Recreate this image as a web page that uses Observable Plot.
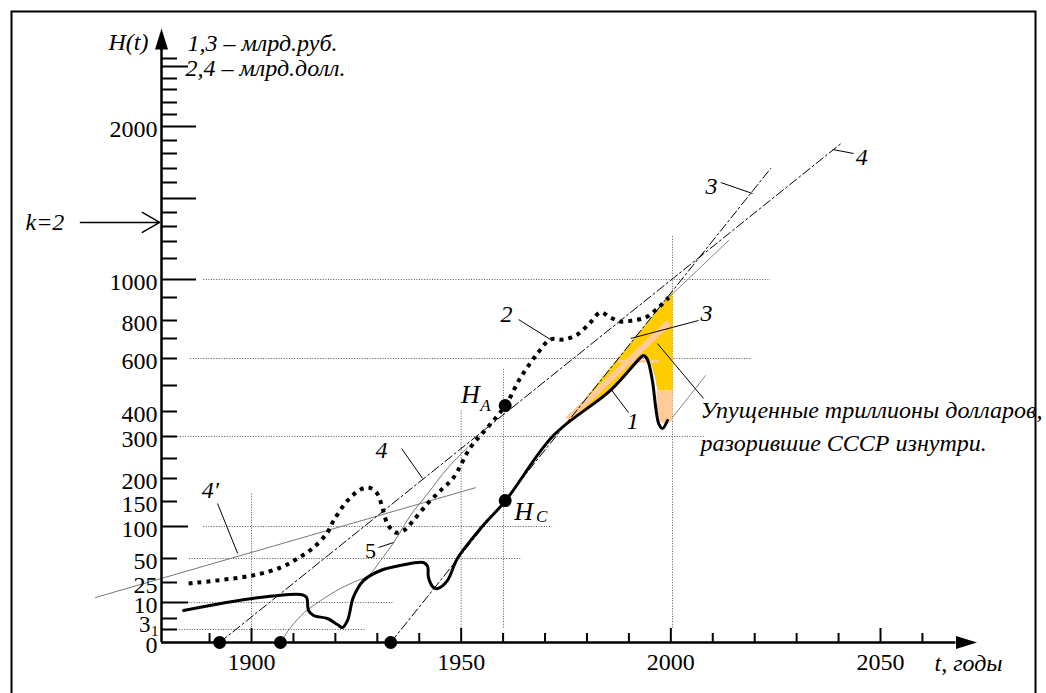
<!DOCTYPE html>
<html><head><meta charset="utf-8">
<script src="https://cdn.jsdelivr.net/npm/d3@7"></script>
<script src="https://cdn.jsdelivr.net/npm/@observablehq/plot@0.6"></script>
<style>body{margin:0;background:#fff}</style>
</head><body><div id="chart"></div>
<script>
// ---- scale definition (hand-drawn, uneven y axis) ----
const yScaleValues = [0,1,3,10,25,50,100,150,200,250,300,400,500,600,700,800,900,1000,1100,1200,1300,1400,1500,1600,1700,1800,1900,2000,2100,2200,2300,2400,2500,2600,2700];
const yScalePixels = [642,629,618,602,582,558,526,501,478,458,436,411,385,358,338,320,297,279,258,241,226,212,198,182,168,153,140,126,114,102,89,78,66,58,49];

// ---- tick labels ----
const yLabels = [0,10,25,50,100,150,200,300,400,600,800,1000,2000];
const yTicksShort = [1,3,25,50,150,200,250,300,400,500,600,700,800,900,1100,1200,1300,1400,1600,1700,1800,1900,2100,2200,2300,2400,2600];
const yTicksMid = [10,100,2500];
const yTicksLong = [1000,1500,2000];
const xLabels = [1900,1950,2000,2050];
const xTicksShort = [1890,1910,1920,1930,1940,1960,1970,1980,1990,2010,2020,2030,2040,2060];

// ---- curve 1 (млрд. руб., solid) ----
const years1 = [1883.8,1900.2,1911.7,1913.1,1913.6,1914.8,1918.1,1920.5,1921.7,1922.9,1924.3,1926.7,1930.8,1935.5,1941.0,1942.0,1942.2,1943.4,1944.4,1946.7,1949.1,1954.6,1960.6,1972.0,1985.6,1992.8,1993.5,1994.4,1995.6,1996.4,1997.1,1998.0,1999.2];
const values1 = [6.5,13,16,14,6.5,4.3,3,1.9,1.36,2.64,14,27,37.5,42.7,45.8,41.7,30.2,21.25,20.5,27,50,96.9,152,304,481,605,615,596,518,415,352,332,364];

// ---- curve 2 (млрд. долл., dotted) ----
const years2 = [1885.0,1900.2,1906.9,1911.0,1914.8,1918.1,1919.6,1922.9,1926.0,1928.1,1930.0,1931.2,1932.4,1934.3,1936.3,1938.6,1942.0,1945.1,1948.2,1952.2,1956.3,1960.6,1964.2,1968.2,1971.3,1974.4,1977.7,1980.8,1983.2,1985.6,1988.0,1990.9,1994.0,1996.8,1999.5];
const values2 = [24.25,32.3,40.6,50,67.2,90.6,112,152,176,180,167,138,106,90.6,93.75,112,146,174,202.5,275,336,425,530,625,695,695,722,789,835,813,794,800,813,852,900];

// ---- line 5 (thin) ----
const years5 = [1906.9,1909.3,1912.6,1916.5,1921.2,1925.3,1927.7,1930.8,1933.9,1937.9,1942.0,1946.7,1951.5];
const values5 = [0,1.36,5.6,11.5,20.5,27,31.25,47.9,75,122,167,225,275];

// ---- straight trend lines ----
const line3 = [[1933.2,0],[2023.8,1700]];
const line4 = [[1892.4,0],[2040.9,1885]];
const line4p = [[1862.8,13.75],[1953.4,180]];
const thinA = [[1999.5,900],[2013.8,1207]];
const thinB = [[2000.4,376],[2008.3,537]];

// ---- lost-trillions area ----
const yellowT = [1973.7,2000.4,2000.4,1996.8,1996.1,1995.4,1994.4,1993.5,1992.8,1985.6,1978.5];
const yellowH = [332,933,481,481,537,574,600,615,605,481,392];
const peachBlockT = [1996.6,2000.4,2000.4,1998.7,1997.1,1996.6];
const peachBlockH = [481,481,364,348,364,423];
const peachStripe = [[1975.4,368],[1999.5,789]];
const peachBar = [[1987.5,590],[1997.1,590]];

// ---- points ----
const axisDots = [1892.4,1906.9,1933.2];
const hPoints = [[1960.5,423],[1960.5,152]];

// ---- guide lines ----
const gridH = [[1000,1888.6,2023.8],[600,1885.5,2019.5],[300,1881.2,2008.3],[100,1888.6,1971.8],[50,1885.2,1964.6],[10,1884.5,1933.9],[1,1882.8,1927.4]];
const gridV = [[1900,167],[1950,404],[1960.1,563],[2000.4,1240]];
const leaders = [[1891.9,146,1896.7,57.8],[1935.8,272.7,1940.8,200],[1930.3,67.2,1933.9,75],[1963.7,804,1971.3,695],[1985.6,488,1989.9,396],[1990.4,700,2006.6,800],[1996.8,675,2007.8,450],[2011.9,1600,2019.5,1531],[2038.6,1831,2043.6,1800]];

// ---- labels ----
const curveLabels = [["2",1960.8,826],["1",1990.9,360],["3",2008.5,830],["3",2009.7,1575],["4",2045.5,1773],["4",1931.0,268],["4′",1890.2,174]];
const label5 = [["5",1928.4,62.5]];
const hLabels = [["H",1952.2,465],["H",1964.9,130]];
const hSubs = [["A",1955.8,423],["C",1969.2,120]];
const note = [["Упущенные триллионы долларов,",2007.1,404],["разорившие СССР изнутри.",2007.1,284]];
const legendLines = ["1,3 – млрд.руб.","2,4 – млрд.долл."];
const kArrow = [[1859.2,1878.1,1329]];

const axisT = 1878.54;
const F = "'Liberation Serif', 'Times New Roman', serif";
const pts = (a,b) => a.map((t,i)=>({t, h:b[i]}));
const pairs = a => a.map(([t,h])=>({t,h}));
const arrowHead = {draw(ctx){ctx.moveTo(0,-21);ctx.lineTo(6.5,0);ctx.lineTo(-6.5,0);ctx.closePath();}};
const grid = {stroke:"#555", strokeWidth:1, strokeDasharray:"1,1.6"};
const dashdot = {stroke:"black", strokeWidth:1, strokeDasharray:"9,3,2,3"};
const T = {fontFamily:F};

const plot = Plot.plot({
  width:1046, height:693,
  marginTop:0, marginRight:0, marginBottom:51, marginLeft:161,
  style:{fontFamily:F, background:"white", color:"black"},
  x:{type:"linear", domain:[1900,2050], range:[251,880]},
  y:{type:"linear", domain:yScaleValues, range:yScalePixels},
  marks:[
    Plot.frame({stroke:"black", strokeWidth:2, insetLeft:-150, insetTop:11, insetRight:11, insetBottom:-60}),
    Plot.ruleY(gridH, {y:d=>d[0], x1:d=>d[1], x2:d=>d[2], ...grid}),
    Plot.ruleX(gridV, {x:d=>d[0], y1:1.3, y2:d=>d[1], ...grid}),
    Plot.line(pts(yellowT,yellowH), {x:"t", y:"h", fill:"#ffcc00", stroke:"none", curve:"linear"}),
    Plot.line(pts(peachBlockT,peachBlockH), {x:"t", y:"h", fill:"#ffcc99", stroke:"none", curve:"linear"}),
    Plot.line(pairs(peachStripe), {x:"t", y:"h", stroke:"#ffcc99", strokeWidth:6, strokeLinecap:"butt"}),
    Plot.line(pairs(peachBar), {x:"t", y:"h", stroke:"#ffcc99", strokeWidth:3, strokeLinecap:"butt"}),
    Plot.line(pairs(line4p), {x:"t", y:"h", stroke:"#777", strokeWidth:1}),
    Plot.line(pts(years5,values5), {x:"t", y:"h", stroke:"#777", strokeWidth:1, curve:"catmull-rom"}),
    Plot.line(pairs(thinA), {x:"t", y:"h", stroke:"#888", strokeWidth:1}),
    Plot.line(pairs(thinB), {x:"t", y:"h", stroke:"#888", strokeWidth:1}),
    Plot.line(pairs(line3), {x:"t", y:"h", ...dashdot}),
    Plot.line(pairs(line4), {x:"t", y:"h", ...dashdot}),
    Plot.link(leaders, {x1:d=>d[0], y1:d=>d[1], x2:d=>d[2], y2:d=>d[3], stroke:"black", strokeWidth:1}),
    Plot.line(pts(years2,values2), {x:"t", y:"h", stroke:"black", strokeWidth:4, strokeDasharray:"4,5", strokeLinecap:"butt", curve:"catmull-rom"}),
    Plot.line(pts(years1,values1), {x:"t", y:"h", stroke:"black", strokeWidth:3, curve:"catmull-rom"}),
    Plot.ruleX([axisT], {y1:0, y2:2700, stroke:"black", strokeWidth:2.5}),
    Plot.ruleY([0], {x1:axisT, x2:2068, stroke:"black", strokeWidth:2.5}),
    Plot.dot([{t:axisT,h:2700}], {x:"t", y:"h", symbol:arrowHead, fill:"black", stroke:"none"}),
    Plot.dot([{t:2068,h:0}], {x:"t", y:"h", symbol:arrowHead, fill:"black", stroke:"none", rotate:90}),
    Plot.axisY(yTicksShort, {anchor:"left", tickSize:-16, strokeWidth:2, tickFormat:()=>"", label:null}),
    Plot.axisY(yTicksMid, {anchor:"left", tickSize:-27, strokeWidth:2, tickFormat:()=>"", label:null}),
    Plot.axisY(yTicksLong, {anchor:"left", tickSize:-35, strokeWidth:2, tickFormat:()=>"", label:null}),
    Plot.axisY(yLabels, {anchor:"left", tickSize:0, tickPadding:4, dy:3, fontSize:24, ...T, tickFormat:d=>String(d), label:null}),
    Plot.text([3], {y:d=>d, frameAnchor:"left", text:()=>"3", dx:-11, dy:6, textAnchor:"end", fontSize:23, ...T}),
    Plot.text([1], {y:d=>d, frameAnchor:"left", text:()=>"1", dx:-3, dy:2, textAnchor:"end", fontSize:15, ...T}),
    Plot.axisX(xTicksShort, {anchor:"bottom", tickSize:-9, strokeWidth:2, tickFormat:()=>"", label:null}),
    Plot.axisX(xLabels, {anchor:"bottom", tickSize:-14, strokeWidth:2, tickFormat:()=>"", label:null}),
    Plot.axisX(xLabels, {anchor:"bottom", tickSize:0, tickPadding:10, fontSize:24, ...T, tickFormat:d=>String(d), label:null}),
    Plot.dot(axisDots, {x:d=>d, y:()=>0, r:6.5, fill:"black"}),
    Plot.dot(hPoints, {x:d=>d[0], y:d=>d[1], r:6.5, fill:"black"}),
    Plot.text(curveLabels, {x:d=>d[1], y:d=>d[2], text:d=>d[0], fontSize:24, fontStyle:"italic", lineAnchor:"middle", ...T}),
    Plot.text(label5, {x:d=>d[1], y:d=>d[2], text:d=>d[0], fontSize:22, lineAnchor:"middle", ...T}),
    Plot.text(hLabels, {x:d=>d[1], y:d=>d[2], text:d=>d[0], fontSize:26, fontStyle:"italic", lineAnchor:"middle", ...T}),
    Plot.text(hSubs, {x:d=>d[1], y:d=>d[2], text:d=>d[0], fontSize:17, fontStyle:"italic", lineAnchor:"middle", ...T}),
    Plot.text(note, {x:d=>d[1], y:d=>d[2], text:d=>d[0], fontSize:24, fontStyle:"italic", textAnchor:"start", lineAnchor:"middle", ...T}),
    Plot.text(["H(t)"], {frameAnchor:"top-left", dx:-13, dy:42, textAnchor:"end", lineAnchor:"middle", fontSize:24, fontStyle:"italic", ...T}),
    Plot.text([legendLines[0]], {frameAnchor:"top-left", dx:26, dy:43, textAnchor:"start", lineAnchor:"middle", fontSize:24, fontStyle:"italic", ...T}),
    Plot.text([legendLines[1]], {frameAnchor:"top-left", dx:24, dy:68, textAnchor:"start", lineAnchor:"middle", fontSize:24, fontStyle:"italic", ...T}),
    Plot.text(["k=2"], {frameAnchor:"top-left", dx:-136, dy:222, textAnchor:"start", lineAnchor:"middle", fontSize:24, fontStyle:"italic", ...T}),
    Plot.arrow(kArrow, {x1:d=>d[0], x2:d=>d[1], y1:d=>d[2], y2:d=>d[2], stroke:"black", strokeWidth:1.5, headLength:20, headAngle:60}),
    Plot.text([2071], {x:d=>d, frameAnchor:"bottom", text:()=>"t, годы", dy:21, textAnchor:"middle", lineAnchor:"middle", fontSize:24, fontStyle:"italic", ...T})
  ]
});
document.getElementById("chart").appendChild(plot);
</script></body></html>
